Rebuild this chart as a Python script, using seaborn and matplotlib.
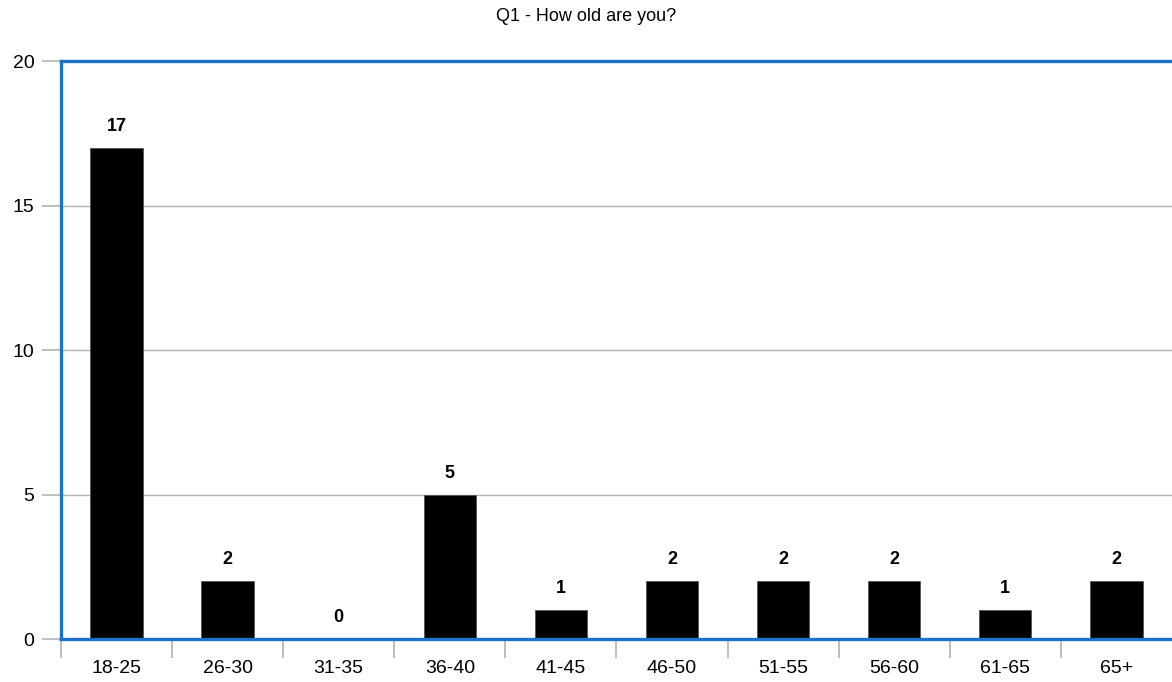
#!/usr/bin/env python3
"""Bar chart of respondent age groups (Q1)."""

import matplotlib.pyplot as plt
import numpy as np
import pandas as pd
import seaborn as sns

sns.set_theme(style="white")
plt.rcParams["font.family"] = ["Liberation Sans", "DejaVu Sans"]
plt.rcParams["text.color"] = "black"
plt.rcParams["xtick.labelcolor"] = "black"
plt.rcParams["ytick.labelcolor"] = "black"

AGE_GROUPS = ["18-25", "26-30", "31-35", "36-40", "41-45",
              "46-50", "51-55", "56-60", "61-65", "65+"]
COUNTS = [17, 2, 0, 5, 1, 2, 2, 2, 1, 2]
Y_TICKS = [0, 5, 10, 15, 20]

BLUE = "#1a73c8"
GRID = "#b3b3b3"


def main():
    df = pd.DataFrame({"age": AGE_GROUPS, "count": COUNTS})

    fig = plt.figure(figsize=(11.72, 6.82), dpi=100)
    ax = fig.add_axes([0.052, 0.063, 0.948, 0.8475])

    sns.barplot(data=df, x="age", y="count", color="black", width=0.47,
                edgecolor="#555555", linewidth=0.6, saturation=1, ax=ax,
                zorder=3)

    # Value labels
    for i, v in enumerate(COUNTS):
        ax.text(i, v + 0.45, str(v), ha="center", va="bottom",
                fontsize=13, fontweight="bold", color="black")

    ax.set_ylim(0, 20)
    ax.set_xlim(-0.5, len(AGE_GROUPS) - 0.5)
    ax.set_yticks(Y_TICKS)
    ax.yaxis.grid(True, color=GRID, linewidth=1.0, zorder=0)
    ax.set_axisbelow(True)

    # Frame
    for side in ["top", "left", "bottom"]:
        ax.spines[side].set_color(BLUE)
        ax.spines[side].set_linewidth(2.4)
        ax.spines[side].set_zorder(4)
    ax.spines["right"].set_visible(False)

    # Ticks
    ax.tick_params(axis="y", length=14, width=1.2, color=GRID, pad=5,
                   labelsize=14, left=True)
    ax.tick_params(axis="x", which="major", length=0, pad=15, labelsize=14)
    ax.set_xticks(np.arange(-0.5, len(AGE_GROUPS) - 0.5, 1), minor=True)
    ax.tick_params(axis="x", which="minor", length=14, width=1.2,
                   color=GRID, bottom=True)
    ax.set(xlabel="", ylabel="")

    fig.suptitle("Q1 - How old are you?", y=0.988, fontsize=13)
    fig.savefig("out.png", dpi=100)


if __name__ == "__main__":
    main()
